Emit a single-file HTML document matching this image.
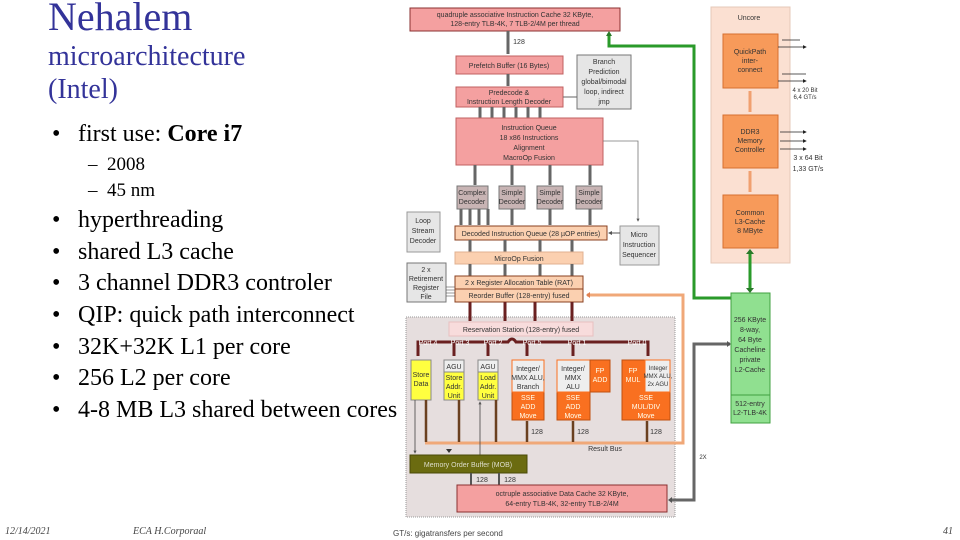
<!DOCTYPE html>
<html><head><meta charset="utf-8"><style>
body{margin:0;width:960px;height:540px;background:#fff;overflow:hidden;position:relative;font-family:"Liberation Serif",serif}
.t{position:absolute;color:#333399;white-space:nowrap}
.b{position:absolute;color:#000;font-size:24px;white-space:nowrap}
.s{position:absolute;color:#000;font-size:19px;white-space:nowrap}
.f{position:absolute;font-size:10px;font-style:italic;color:#444;top:526px}
svg{position:absolute;left:0;top:0}
svg text{font-family:"Liberation Sans",sans-serif;font-size:7px;fill:#333;text-anchor:middle}
</style></head><body>
<div class="t" style="left:48px;top:-7px;font-size:40px">Nehalem</div>
<div class="t" style="left:48px;top:41px;font-size:28px">microarchitecture</div>
<div class="t" style="left:48px;top:74px;font-size:28px">(Intel)</div>
<div class="b" style="left:52px;top:121px">•</div><div class="b" style="left:78px;top:121px">first use: <b>Core i7</b></div>
<div class="s" style="left:88px;top:154px">–&nbsp;&nbsp;2008</div>
<div class="s" style="left:88px;top:180px">–&nbsp;&nbsp;45 nm</div>
<div class="b" style="left:52px;top:207px">•</div><div class="b" style="left:78px;top:207px">hyperthreading</div>
<div class="b" style="left:52px;top:239px">•</div><div class="b" style="left:78px;top:239px">shared L3 cache</div>
<div class="b" style="left:52px;top:270px">•</div><div class="b" style="left:78px;top:270px">3 channel DDR3 controler</div>
<div class="b" style="left:52px;top:302px">•</div><div class="b" style="left:78px;top:302px">QIP: quick path interconnect</div>
<div class="b" style="left:52px;top:334px">•</div><div class="b" style="left:78px;top:334px">32K+32K L1 per core</div>
<div class="b" style="left:52px;top:365px">•</div><div class="b" style="left:78px;top:365px">256 L2 per core</div>
<div class="b" style="left:52px;top:397px">•</div><div class="b" style="left:78px;top:397px">4-8 MB L3 shared between cores</div>
<div class="f" style="left:5px">12/14/2021</div>
<div class="f" style="left:133px">ECA H.Corporaal</div>
<div class="f" style="left:393px;font-style:normal;font-family:'Liberation Sans',sans-serif;font-size:8px;top:529px">GT/s: gigatransfers per second</div>
<div class="f" style="left:943px">41</div>

<svg width="960" height="540">
<defs>
<marker id="a" markerWidth="4" markerHeight="4" refX="3" refY="2" orient="auto"><path d="M0,0L4,2L0,4z" fill="#555"/></marker>
<marker id="ab" markerWidth="5" markerHeight="5" refX="4" refY="2.5" orient="auto"><path d="M0,0L5,2.5L0,5z" fill="#222"/></marker>
</defs>
<rect x="406" y="317" width="269" height="200" fill="#e6dede" stroke="#999" stroke-dasharray="1,1"/>
<rect x="711" y="7" width="79" height="256" fill="#fbe0d2" stroke="#e6c8b8"/>
<polyline points="609,33 609,46 694,46 694,298 731,298" fill="none" stroke="#2a9a2a" stroke-width="3"/>
<path d="M606,36l3,-5l3,5z" fill="#2a7a2a"/>
<polyline points="730,344 694,344 694,500 670,500" fill="none" stroke="#666" stroke-width="3"/>
<path d="M727,341l4,3l-4,3z M672,497l-4,3l4,3z" fill="#555"/>
<polyline points="587,295 683,295 683,443 425,443" fill="none" stroke="#f0a878" stroke-width="3"/>
<path d="M590,292l-4,3l4,3z" fill="#e08050"/>
<text x="749" y="20">Uncore</text>
<rect x="723" y="34" width="55" height="54" fill="#f79a5a" stroke="#d77030"/>
<text x="750" y="54">QuickPath</text><text x="750" y="63">inter-</text><text x="750" y="72">connect</text>
<rect x="723" y="115" width="55" height="53" fill="#f79a5a" stroke="#d77030"/>
<text x="750" y="134">DDR3</text><text x="750" y="143">Memory</text><text x="750" y="152">Controller</text>
<rect x="723" y="195" width="55" height="53" fill="#f79a5a" stroke="#d77030"/>
<text x="750" y="215">Common</text><text x="750" y="224">L3-Cache</text><text x="750" y="233">8 MByte</text>
<line x1="750" y1="91" x2="750" y2="112" stroke="#f0a070" stroke-width="3"/>
<line x1="750" y1="171" x2="750" y2="192" stroke="#f0a070" stroke-width="3"/>
<line x1="750" y1="251" x2="750" y2="290" stroke="#2a9a2a" stroke-width="3"/>
<path d="M746,254l4,-5l4,5z M746,288l4,5l4,-5z" fill="#2a7a2a"/>
<line x1="782" y1="40" x2="800" y2="40" stroke="#222" stroke-width=".8"/><line x1="778" y1="47" x2="806" y2="47" stroke="#222" stroke-width=".8" marker-end="url(#ab)"/>
<line x1="782" y1="74" x2="806" y2="74" stroke="#222" stroke-width=".8"/><line x1="778" y1="81" x2="806" y2="81" stroke="#222" stroke-width=".8" marker-end="url(#ab)"/>
<line x1="780" y1="132" x2="806" y2="132" stroke="#222" stroke-width=".8" marker-end="url(#ab)"/>
<line x1="780" y1="141" x2="806" y2="141" stroke="#222" stroke-width=".8" marker-end="url(#ab)"/>
<line x1="780" y1="149" x2="806" y2="149" stroke="#222" stroke-width=".8" marker-end="url(#ab)"/>
<text x="805" y="92" style="font-size:6px">4 x 20 Bit</text><text x="805" y="99" style="font-size:6px">6,4 GT/s</text>
<text x="808" y="160">3 x 64 Bit</text><text x="808" y="171">1,33 GT/s</text>
<rect x="731" y="293" width="39" height="130" fill="#90e090" stroke="#40a040"/>
<line x1="731" y1="395" x2="770" y2="395" stroke="#40a040"/>
<text x="750" y="322">256 KByte</text><text x="750" y="332">8-way,</text><text x="750" y="342">64 Byte</text><text x="750" y="352">Cacheline</text><text x="750" y="362">private</text><text x="750" y="372">L2-Cache</text>
<text x="750" y="406">512-entry</text><text x="750" y="415">L2-TLB-4K</text>
<text x="703" y="459" style="font-size:6px">2X</text>
<rect x="410" y="8" width="210" height="23" fill="#f4a0a0" stroke="#8a3030"/>
<text x="515" y="17">quadruple associative Instruction Cache 32 KByte,</text>
<text x="515" y="26">128-entry TLB-4K, 7 TLB-2/4M per thread</text>
<line x1="508" y1="31" x2="508" y2="54" stroke="#666" stroke-width="3"/><text x="519" y="44">128</text>
<rect x="456" y="56" width="107" height="18" fill="#f4a0a0" stroke="#c06060"/><text x="509" y="68">Prefetch Buffer (16 Bytes)</text>
<line x1="508" y1="74" x2="508" y2="86" stroke="#666" stroke-width="3"/>
<rect x="577" y="55" width="54" height="54" fill="#e6e6e6" stroke="#777"/>
<text x="604" y="64">Branch</text><text x="604" y="74">Prediction</text><text x="604" y="84">global/bimodal</text><text x="604" y="94">loop, indirect</text><text x="604" y="104">jmp</text>
<rect x="456" y="87" width="107" height="20" fill="#f4a0a0" stroke="#c06060"/>
<text x="509" y="95">Predecode &amp;</text><text x="509" y="104">Instruction Length Decoder</text>
<line x1="563" y1="97" x2="577" y2="97" stroke="#666"/>
<g stroke="#666" stroke-width="3"><line x1="480" y1="107" x2="480" y2="118"/><line x1="492" y1="107" x2="492" y2="118"/><line x1="504" y1="107" x2="504" y2="118"/><line x1="516" y1="107" x2="516" y2="118"/><line x1="528" y1="107" x2="528" y2="118"/><line x1="540" y1="107" x2="540" y2="118"/></g>
<rect x="456" y="118" width="147" height="47" fill="#f4a0a0" stroke="#c06060"/>
<text x="529" y="130">Instruction Queue</text><text x="529" y="140">18 x86 Instructions</text><text x="529" y="150">Alignment</text><text x="529" y="160">MacroOp Fusion</text>
<polyline points="603,141 638,141 638,221" fill="none" stroke="#777" stroke-width=".8" marker-end="url(#a)"/>
<g stroke="#666" stroke-width="3"><line x1="475" y1="165" x2="475" y2="185"/><line x1="512" y1="165" x2="512" y2="185"/><line x1="550" y1="165" x2="550" y2="185"/><line x1="590" y1="165" x2="590" y2="185"/></g>
<g fill="#c8b4b4" stroke="#777"><rect x="457" y="186" width="31" height="23"/><rect x="499" y="186" width="26" height="23"/><rect x="537" y="186" width="26" height="23"/><rect x="576" y="186" width="26" height="23"/></g>
<text x="472" y="195">Complex</text><text x="472" y="204">Decoder</text><text x="512" y="195">Simple</text><text x="512" y="204">Decoder</text><text x="550" y="195">Simple</text><text x="550" y="204">Decoder</text><text x="589" y="195">Simple</text><text x="589" y="204">Decoder</text>
<g stroke="#666" stroke-width="3"><line x1="461" y1="209" x2="461" y2="225"/><line x1="470" y1="209" x2="470" y2="225"/><line x1="479" y1="209" x2="479" y2="225"/><line x1="488" y1="209" x2="488" y2="225"/><line x1="512" y1="209" x2="512" y2="225"/><line x1="550" y1="209" x2="550" y2="225"/><line x1="590" y1="209" x2="590" y2="225"/></g>
<rect x="407" y="212" width="33" height="40" fill="#e6e6e6" stroke="#999"/>
<text x="423" y="223">Loop</text><text x="423" y="233">Stream</text><text x="423" y="243">Decoder</text>
<rect x="455" y="226" width="152" height="14" fill="#fbd0b0" stroke="#8a4020"/><text x="531" y="236">Decoded Instruction Queue (28 µOP entries)</text>
<rect x="620" y="226" width="39" height="39" fill="#e6e6e6" stroke="#999"/>
<text x="639" y="237">Micro</text><text x="639" y="247">Instruction</text><text x="639" y="257">Sequencer</text>
<line x1="620" y1="233" x2="609" y2="233" stroke="#555" marker-end="url(#a)"/>
<g stroke="#666" stroke-width="3"><line x1="470" y1="240" x2="470" y2="252"/><line x1="505" y1="240" x2="505" y2="252"/><line x1="540" y1="240" x2="540" y2="252"/><line x1="572" y1="240" x2="572" y2="252"/></g>
<rect x="455" y="252" width="128" height="12" fill="#fbd0b0" stroke="#e0b090"/><text x="519" y="261">MicroOp Fusion</text>
<g stroke="#666" stroke-width="3"><line x1="470" y1="264" x2="470" y2="276"/><line x1="505" y1="264" x2="505" y2="276"/><line x1="540" y1="264" x2="540" y2="276"/><line x1="572" y1="264" x2="572" y2="276"/></g>
<rect x="455" y="276" width="128" height="13" fill="#fbd0b0" stroke="#8a4020"/><text x="519" y="285">2 x Register Allocation Table (RAT)</text>
<rect x="455" y="289" width="128" height="13" fill="#fbd0b0" stroke="#8a4020"/><text x="519" y="298">Reorder Buffer (128-entry) fused</text>
<rect x="407" y="263" width="39" height="39" fill="#e6e6e6" stroke="#777"/>
<text x="426" y="272">2 x</text><text x="426" y="281">Retirement</text><text x="426" y="290">Register</text><text x="426" y="299">File</text>
<g stroke="#555" stroke-width=".6"><line x1="446" y1="287" x2="455" y2="287"/><line x1="446" y1="290" x2="455" y2="290"/><line x1="446" y1="293" x2="455" y2="293"/><line x1="446" y1="296" x2="455" y2="296"/></g>
<g stroke="#6a2020" stroke-width="3"><line x1="470" y1="302" x2="470" y2="321"/><line x1="505" y1="302" x2="505" y2="321"/><line x1="535" y1="302" x2="535" y2="321"/><line x1="572" y1="302" x2="572" y2="321"/></g>
<rect x="449" y="322" width="144" height="14" fill="#f8dcdc" stroke="#e8c0c0"/><text x="521" y="332">Reservation Station (128-entry) fused</text>
<path d="M418,356 V342 H508 Q512,336 516,342 H648 V356" fill="none" stroke="#6a2020" stroke-width="3"/>
<g stroke="#6a2020" stroke-width="3"><line x1="454" y1="342" x2="454" y2="356"/><line x1="488" y1="342" x2="488" y2="356"/><line x1="527" y1="342" x2="527" y2="356"/><line x1="573" y1="342" x2="573" y2="356"/></g>
<text x="428" y="345" style="fill:#fff">Port 4</text><text x="460" y="345" style="fill:#fff">Port 3</text><text x="493" y="345" style="fill:#fff">Port 2</text><text x="532" y="345" style="fill:#fff">Port 5</text><text x="577" y="345" style="fill:#fff">Port 1</text><text x="637" y="345" style="fill:#fff">Port 0</text>
<rect x="411" y="360" width="20" height="40" fill="#ffff40" stroke="#888"/><text x="421" y="377">Store</text><text x="421" y="386">Data</text>
<rect x="444" y="360" width="20" height="40" fill="#ffff40" stroke="#888"/><rect x="444" y="360" width="20" height="12" fill="#eee" stroke="#888"/>
<text x="454" y="369">AGU</text><text x="454" y="380">Store</text><text x="454" y="389">Addr.</text><text x="454" y="398">Unit</text>
<rect x="478" y="360" width="20" height="40" fill="#ffff40" stroke="#888"/><rect x="478" y="360" width="20" height="12" fill="#eee" stroke="#888"/>
<text x="488" y="369">AGU</text><text x="488" y="380">Load</text><text x="488" y="389">Addr.</text><text x="488" y="398">Unit</text>
<rect x="512" y="360" width="32" height="60" fill="#f97020" stroke="#c05010"/><rect x="512" y="360" width="32" height="32" fill="#eee" stroke="#f97020"/>
<text x="528" y="371">Integer/</text><text x="528" y="380">MMX ALU,</text><text x="528" y="389">Branch</text><text x="528" y="400" style="fill:#ffe">SSE</text><text x="528" y="409" style="fill:#ffe">ADD</text><text x="528" y="418" style="fill:#ffe">Move</text>
<rect x="557" y="360" width="33" height="60" fill="#f97020" stroke="#c05010"/><rect x="557" y="360" width="33" height="32" fill="#eee" stroke="#f97020"/>
<rect x="590" y="360" width="20" height="32" fill="#f97020" stroke="#c05010"/>
<text x="573" y="371">Integer/</text><text x="573" y="380">MMX</text><text x="573" y="389">ALU</text><text x="573" y="400" style="fill:#ffe">SSE</text><text x="573" y="409" style="fill:#ffe">ADD</text><text x="573" y="418" style="fill:#ffe">Move</text>
<text x="600" y="373" style="fill:#ffe">FP</text><text x="600" y="382" style="fill:#ffe">ADD</text>
<rect x="622" y="360" width="48" height="60" fill="#f97020" stroke="#c05010"/><rect x="645" y="360" width="25" height="32" fill="#eee" stroke="#f97020"/>
<text x="633" y="373" style="fill:#ffe">FP</text><text x="633" y="382" style="fill:#ffe">MUL</text>
<text x="658" y="370" style="font-size:6px">Integer</text><text x="658" y="378" style="font-size:6px">MMX ALU,</text><text x="658" y="386" style="font-size:6px">2x AGU</text>
<text x="646" y="400" style="fill:#ffe">SSE</text><text x="646" y="409" style="fill:#ffe">MUL/DIV</text><text x="646" y="418" style="fill:#ffe">Move</text>
<g stroke="#6a4020" stroke-width="2.5"><line x1="527" y1="421" x2="527" y2="442"/><line x1="573" y1="421" x2="573" y2="442"/><line x1="647" y1="421" x2="647" y2="442"/><line x1="426" y1="400" x2="426" y2="442"/><line x1="459" y1="400" x2="459" y2="442"/><line x1="496" y1="400" x2="496" y2="442"/></g>
<text x="537" y="434">128</text><text x="583" y="434">128</text><text x="656" y="434">128</text>
<text x="605" y="451">Result Bus</text>
<line x1="415" y1="400" x2="415" y2="453" stroke="#444" stroke-width=".8" marker-end="url(#a)"/>
<line x1="480" y1="455" x2="480" y2="402" stroke="#444" stroke-width=".8" marker-end="url(#a)"/>
<path d="M446,449l3,4l3,-4z" fill="#333"/>
<rect x="410" y="455" width="117" height="18" fill="#6b6b10" stroke="#4a4a08"/>
<text x="468" y="467" style="fill:#ddc">Memory Order Buffer (MOB)</text>
<g stroke="#555" stroke-width="2"><line x1="471" y1="473" x2="471" y2="485"/><line x1="499" y1="473" x2="499" y2="485"/></g>
<text x="482" y="482">128</text><text x="510" y="482">128</text>
<rect x="457" y="485" width="210" height="27" fill="#f4a0a0" stroke="#8a3030"/>
<text x="562" y="496">octruple associative Data Cache 32 KByte,</text>
<text x="562" y="506">64-entry TLB-4K, 32-entry TLB-2/4M</text>
</svg>
</body></html>
